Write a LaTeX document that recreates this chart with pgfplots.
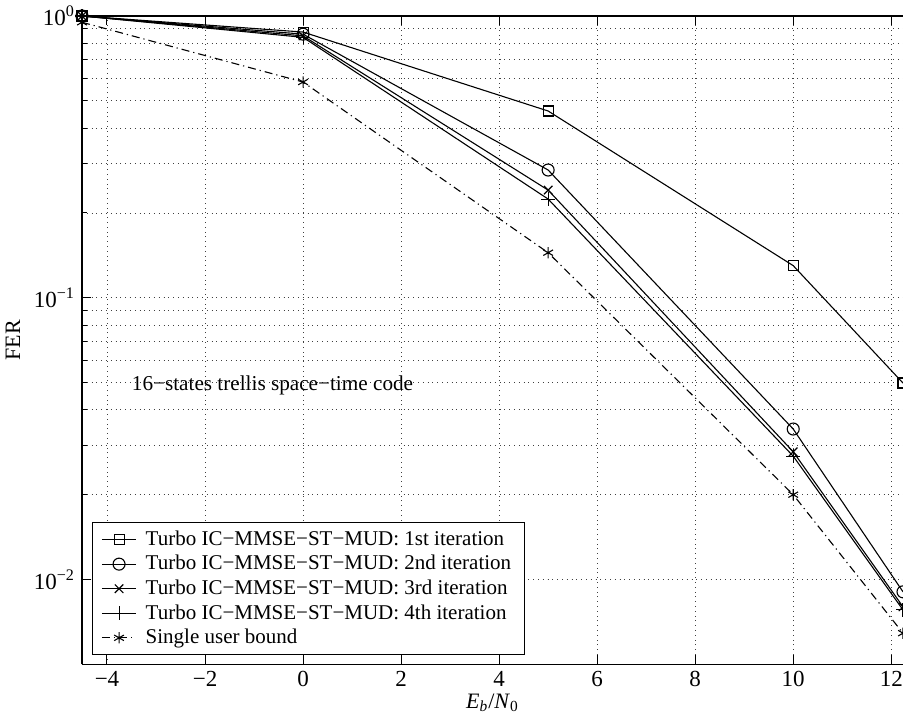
\documentclass[border=0pt]{standalone}
\usepackage{pgfplots}
\pgfplotsset{compat=1.18}
\usepackage{fontspec}
\setmainfont{Liberation Serif}
\begin{document}
\begin{tikzpicture}
\begin{axis}[
  scale only axis, width=410.5pt, height=324.15pt,
  xmin=-4.51, xmax=12.24, ymode=log, ymin=0.005, ymax=1,
  axis x line*=box, axis y line*=left,
  tick align=inside,
  axis line style={line width=0.7pt},
  xtick={-4,-2,...,12}, xticklabels={−4,−2,0,2,4,6,8,10,12},
  ytick={0.01,0.1,1}, yticklabels={10\textsuperscript{−2},10\textsuperscript{−1},10\textsuperscript{0}},
  xmajorgrids, ymajorgrids, yminorgrids,
  major grid style={dotted, black!75},
  minor grid style={dotted, black!75},
  major tick length=4.5pt, minor tick length=2.5pt,
  every tick/.style={black, line width=0.5pt},
  tick label style={font=\fontsize{11.5}{13}\selectfont},
  xlabel={\textit{E}\textsubscript{\textit{b}}/\textit{N}\textsubscript{0}},
  ylabel={FER},
  xlabel shift=-3.5pt,
  label style={font=\fontsize{11}{13}\selectfont},
  legend style={at={(0.012,0.014)}, anchor=south west, font=\fontsize{10.5}{12}\selectfont, draw=black, line width=0.6pt, inner xsep=4.5pt, inner ysep=2pt, row sep=-0.5pt},
  legend cell align=left,
  legend style={/tikz/every odd column/.append style={column sep=2.5pt}},
  every axis plot/.append style={line width=0.55pt, black},
]
\addplot[mark=square, mark size=2.5pt, mark options={solid}] coordinates {(-4.51,1.0) (0,0.877) (5,0.46) (10,0.130) (12.24,0.0498)};
\addlegendentry{Turbo IC−MMSE−ST−MUD: 1st iteration\hspace{9pt}}
\addplot[mark=o, mark size=3pt, mark options={solid}] coordinates {(-4.51,1.0) (0,0.862) (5,0.284) (10,0.0342) (12.24,0.00904)};
\addlegendentry{Turbo IC−MMSE−ST−MUD: 2nd iteration\hspace{9pt}}
\addplot[mark=x, mark size=3pt, mark options={solid}] coordinates {(-4.51,1.0) (0,0.85) (5,0.241) (10,0.0284) (12.24,0.0080)};
\addlegendentry{Turbo IC−MMSE−ST−MUD: 3rd iteration\hspace{9pt}}
\addplot[mark=+, mark size=3.5pt, mark options={solid}] coordinates {(-4.51,1.0) (0,0.84) (5,0.224) (10,0.0274) (12.24,0.0078)};
\addlegendentry{Turbo IC−MMSE−ST−MUD: 4th iteration\hspace{9pt}}
\addplot[mark=asterisk, mark size=2.8pt, mark options={solid}, dash pattern=on 4pt off 2pt on 0.6pt off 2pt] coordinates {(-4.51,0.95) (0,0.583) (5,0.1445) (10,0.020) (12.24,0.00645)};
\addlegendentry{Single user bound}
\node[anchor=west, font=\fontsize{10.6}{12}\selectfont, inner sep=0pt] at (axis cs:-3.5,0.049) {16−states trellis space−time code};
\end{axis}
\pgfresetboundingbox
\path ([xshift=-41pt,yshift=-25.85pt]current axis.south west) rectangle ([yshift=8pt]current axis.north east);
\end{tikzpicture}
\end{document}
